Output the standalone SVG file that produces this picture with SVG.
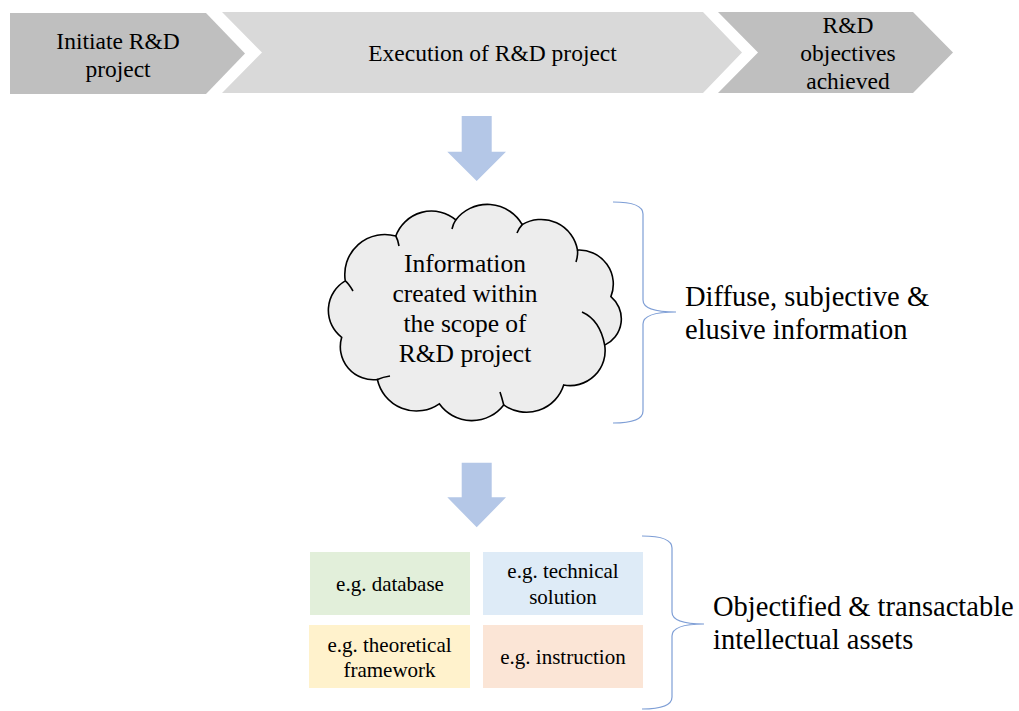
<svg xmlns="http://www.w3.org/2000/svg" width="1019" height="711" viewBox="0 0 1019 711">
<style>
.dark{fill:#bfbfbf}
.light{fill:#d9d9d9}
.arrow{fill:#b4c7e7}
.brace{fill:none;stroke:#7f9fd6;stroke-width:1.2}
.cloud{fill:#ededed;stroke:#000;stroke-width:1.6}
.hook{fill:none;stroke:#000;stroke-width:1.6}
</style>
<rect width="1019" height="711" fill="#fff"/>
<g id="step1">
<polygon class="dark" points="10,13 206,13 245,53.5 206,94 10,94"/>
<text x="118" y="49" style="font-family:'Times New Roman','Liberation Serif',serif;font-size:23.5px" text-anchor="middle">Initiate R&amp;D</text>
<text x="118" y="77" style="font-family:'Times New Roman','Liberation Serif',serif;font-size:23.5px" text-anchor="middle">project</text>
</g>
<g id="step2">
<polygon class="light" points="222,12 703,12 742,52.5 703,93 222,93 262,52.5"/>
<text x="492.5" y="61" style="font-family:'Times New Roman','Liberation Serif',serif;font-size:23.5px" text-anchor="middle">Execution of R&amp;D project</text>
</g>
<g id="step3">
<polygon class="dark" points="718,12 913,12 953,52.5 913,93 718,93 758,52.5"/>
<text x="848" y="33" style="font-family:'Times New Roman','Liberation Serif',serif;font-size:23.5px" text-anchor="middle">R&amp;D</text>
<text x="848" y="61" style="font-family:'Times New Roman','Liberation Serif',serif;font-size:23.5px" text-anchor="middle">objectives</text>
<text x="848" y="89" style="font-family:'Times New Roman','Liberation Serif',serif;font-size:23.5px" text-anchor="middle">achieved</text>
</g>
<g id="cloud">
<path class="cloud" d="M345.3,280.9 A40,40 0 0 1 395.8,236 A38,38 0 0 1 455.8,219.9 A40,40 0 0 1 522.2,224.6 A37,37 0 0 1 577.5,250.1 A34,34 0 0 1 610.9,296.6 A29,29 0 0 1 604.7,345.1 A35,35 0 0 1 563.7,385 A39,39 0 0 1 503.7,404.9 A40,40 0 0 1 439.3,403.8 A40,40 0 0 1 377.4,379.5 A33,33 0 0 1 341.7,337.3 A34,34 0 0 1 345.3,280.9 Z"/>
<path class="hook" d="M345.3,280.9 Q349,284 353,291 M395.8,236 Q398,240 399,246 M455.8,219.9 Q453,224 452,229 M522.2,224.6 Q519,228 517,233 M577.5,250.1 Q578,256 576,262 M604.7,345.1 Q600,320 582,312 M503.7,404.9 Q502,398 500,392 M377.4,379.5 Q383,377 390,376"/>
<text x="465" y="271.5" style="font-family:'Times New Roman','Liberation Serif',serif;font-size:25.5px" text-anchor="middle">Information</text>
<text x="465" y="301.5" style="font-family:'Times New Roman','Liberation Serif',serif;font-size:25.5px" text-anchor="middle">created within</text>
<text x="465" y="331.5" style="font-family:'Times New Roman','Liberation Serif',serif;font-size:25.5px" text-anchor="middle">the scope of</text>
<text x="465" y="361.5" style="font-family:'Times New Roman','Liberation Serif',serif;font-size:25.5px" text-anchor="middle">R&amp;D project</text>
</g>
<g id="label-diffuse">
<text x="685" y="306" style="font-family:'Times New Roman','Liberation Serif',serif;font-size:28.5px">Diffuse, subjective &amp;</text>
<text x="685" y="339" style="font-family:'Times New Roman','Liberation Serif',serif;font-size:28.5px">elusive information</text>
</g>
<g id="box-database">
<rect x="310" y="552" width="160" height="63" fill="#e2efda"/>
<text x="390" y="591" style="font-family:'Times New Roman','Liberation Serif',serif;font-size:21px" text-anchor="middle">e.g. database</text>
</g>
<g id="box-technical">
<rect x="483" y="552" width="160" height="63" fill="#deebf7"/>
<text x="563" y="578" style="font-family:'Times New Roman','Liberation Serif',serif;font-size:21px" text-anchor="middle">e.g. technical</text>
<text x="563" y="604" style="font-family:'Times New Roman','Liberation Serif',serif;font-size:21px" text-anchor="middle">solution</text>
</g>
<g id="box-theoretical">
<rect x="309" y="625" width="161" height="63" fill="#fff2cc"/>
<text x="389.5" y="651.5" style="font-family:'Times New Roman','Liberation Serif',serif;font-size:21px" text-anchor="middle">e.g. theoretical</text>
<text x="389.5" y="677" style="font-family:'Times New Roman','Liberation Serif',serif;font-size:21px" text-anchor="middle">framework</text>
</g>
<g id="box-instruction">
<rect x="483" y="625" width="160" height="63" fill="#fbe5d6"/>
<text x="563" y="664" style="font-family:'Times New Roman','Liberation Serif',serif;font-size:21px" text-anchor="middle">e.g. instruction</text>
</g>
<g id="label-objectified">
<text x="713" y="616" style="font-family:'Times New Roman','Liberation Serif',serif;font-size:28.5px">Objectified &amp; transactable</text>
<text x="713" y="649" style="font-family:'Times New Roman','Liberation Serif',serif;font-size:28.5px">intellectual assets</text>
</g>
<g id="connectors">
<polygon class="arrow" points="461.7,116 491.7,116 491.7,151.7 506,151.7 476.7,181 447.3,151.7 461.7,151.7"/>
<polygon class="arrow" points="461.7,462.7 491.7,462.7 491.7,497.3 506,497.3 476.7,527.3 447.3,497.3 461.7,497.3"/>
<path class="brace" d="M613,202 Q643,202 643,214 L643,300 Q643,312 676,312 Q643,312 643,324 L643,411 Q643,423 613,423"/>
<path class="brace" d="M642,536 Q672,536 672,548 L672,612 Q672,624 704,624 Q672,624 672,636 L672,697 Q672,709 642,709"/>
</g>
</svg>
